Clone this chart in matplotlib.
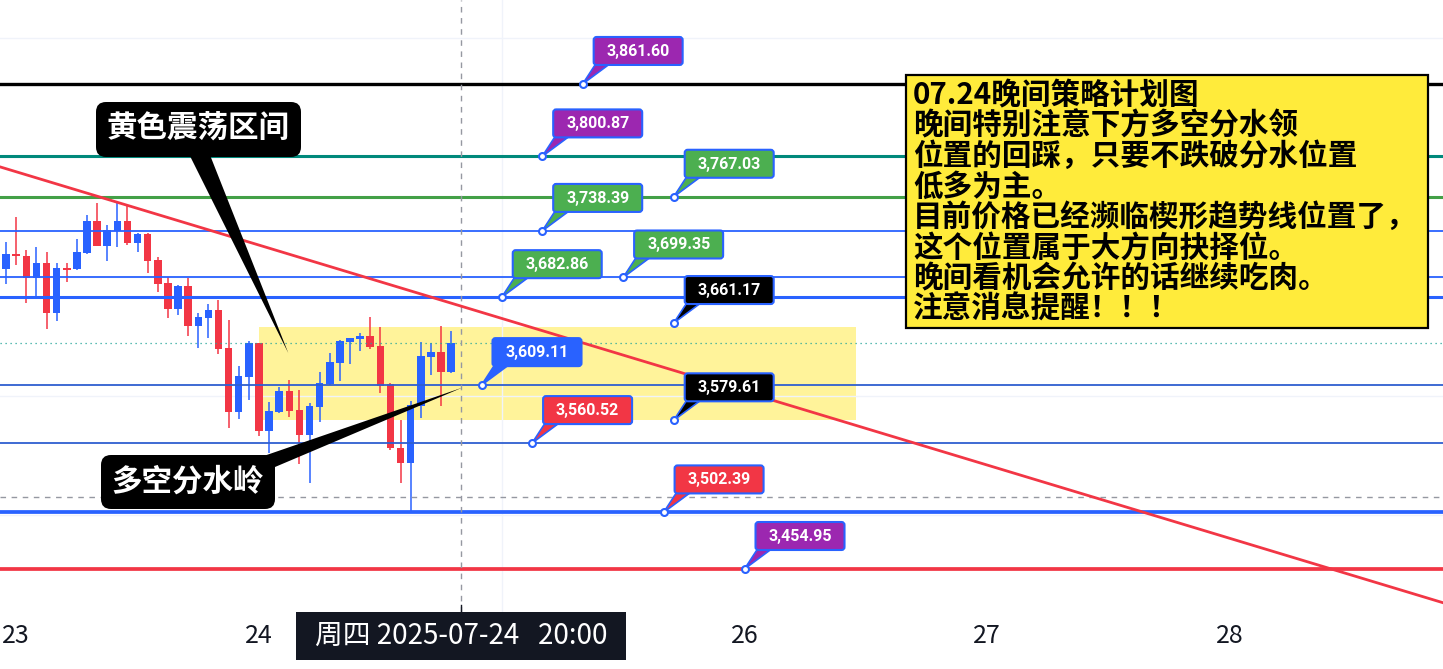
import numpy as np
import pandas as pd
import matplotlib
matplotlib.use("Agg")
import matplotlib.pyplot as plt
from matplotlib.patches import FancyBboxPatch, Rectangle, Polygon

plt.rcParams['font.family'] = ['Noto Sans CJK SC', 'DejaVu Sans']

# ---- data -------------------------------------------------------------
# hourly candles, hours counted from 2025-07-24 00:00
times = pd.date_range('2025-07-22 23:00', periods=45, freq='h')
hours = (times - pd.Timestamp('2025-07-24 00:00')) / pd.Timedelta(hours=1)

opens = [3706.7, 3718.8, 3717.4, 3698.7, 3711.8, 3669.9, 3707.3, 3706.2, 3720.2, 3746.5,
         3726.0, 3738.6, 3746.5, 3728.5, 3735.8, 3714.0, 3694.5, 3673.2, 3692.3, 3658.7,
         3665.7, 3672.1, 3640.3, 3586.8, 3616.2, 3644.2, 3570.9, 3586.8, 3604.2, 3588.3,
         3567.3, 3591.0, 3610.1, 3627.9, 3645.5, 3648.0, 3650.6, 3641.9, 3610.1, 3556.7,
         3544.1, 3591.6, 3633.0, 3636.9, 3620.1]
highs = [3729.1, 3750.3, 3722.4, 3724.7, 3721.0, 3711.8, 3711.8, 3731.4, 3751.8, 3761.6,
         3743.4, 3763.8, 3759.9, 3736.9, 3736.9, 3716.8, 3700.0, 3693.1, 3698.7, 3669.9,
         3677.1, 3680.5, 3663.7, 3625.2, 3646.1, 3644.7, 3595.2, 3607.3, 3613.4, 3605.1,
         3594.4, 3620.4, 3636.3, 3646.9, 3648.6, 3653.1, 3666.0, 3658.1, 3610.5, 3579.9,
         3596.1, 3645.0, 3644.2, 3658.7, 3654.5]
lows = [3693.9, 3709.8, 3677.7, 3683.9, 3655.9, 3663.1, 3695.9, 3706.0, 3719.1, 3725.5,
        3713.5, 3725.2, 3726.4, 3721.0, 3703.4, 3687.5, 3665.2, 3667.9, 3650.6, 3640.5,
        3648.9, 3635.0, 3573.4, 3580.7, 3596.6, 3566.5, 3551.9, 3586.0, 3582.7, 3543.0,
        3527.3, 3578.5, 3609.0, 3612.8, 3626.8, 3638.0, 3639.2, 3602.8, 3555.0, 3526.8,
        3503.0, 3581.3, 3617.6, 3591.6, 3619.6]
closes = [3719.1, 3717.1, 3698.7, 3711.8, 3669.9, 3707.1, 3705.7, 3720.7, 3746.5, 3726.0,
          3739.2, 3746.5, 3728.5, 3735.8, 3713.5, 3693.9, 3673.2, 3692.3, 3658.7, 3666.5,
          3672.1, 3639.7, 3586.8, 3616.8, 3644.7, 3570.9, 3587.4, 3604.2, 3587.7, 3567.3,
          3591.6, 3611.2, 3628.8, 3646.1, 3648.6, 3650.6, 3641.4, 3608.4, 3556.2, 3544.1,
          3592.5, 3633.6, 3636.9, 3620.4, 3644.7]

level_prices = [3861.60, 3800.87, 3767.03, 3738.39, 3699.35, 3682.86, 3609.11, 3560.52, 3502.39, 3454.95]
level_colors = ['#000000', '#00897b', '#43a047', '#2962ff', '#2962ff', '#2962ff', '#2f5fd0', '#2f5fd0', '#2962ff', '#f23645']
level_widths = [2.4, 2.2, 2.2, 1.3, 1.3, 2.2, 1.3, 1.3, 2.7, 2.7]

bubble_prices = [3861.60, 3800.87, 3767.03, 3738.39, 3699.35, 3682.86, 3661.17, 3609.11, 3579.61, 3560.52, 3502.39, 3454.95]
bubble_hours = [32, 28, 41, 28, 36, 24, 41, 22, 41, 27, 40, 48]
bubble_colors = ['#9c27b0', '#9c27b0', '#4caf50', '#4caf50', '#4caf50', '#4caf50', '#000000',
                 '#2962ff', '#000000', '#f23645', '#f23645', '#9c27b0']

zone_hours = (0, 59)
zone_prices = (3579.61, 3658.0)
trend_pts = [(-24, 3788.0), (96, 3480.6)]
last_price = 3644.7
cross_hour, cross_price = 20, 3515.0

day_hours = [-24, 0, 24, 48, 72, 96]
tick_hours = [-24, 0, 48, 72, 96]
tick_labels = ['23', '24', '26', '27', '28']
grid_prices = [3500, 3600, 3700, 3800, 3900]

note_lines = ['07.24晚间策略计划图',
              '晚间特别注意下方多空分水领',
              '位置的回踩，只要不跌破分水位置',
              '低多为主。',
              '目前价格已经濒临楔形趋势线位置了，',
              '这个位置属于大方向抉择位。',
              '晚间看机会允许的话继续吃肉。',
              '注意消息提醒！！！']

# ---- figure -----------------------------------------------------------
W, H = 1443, 669
BLUE, RED = '#2962ff', '#f23645'
fig = plt.figure(figsize=(W / 100, H / 100), dpi=100)
ax = fig.add_axes([0, 57 / H, 1, 612 / H])
ax.set_xlim(-25.6, 117.05)
ax.set_ylim(3418.9, 3932.0)
for s in ax.spines.values():
    s.set_visible(False)

ax.set_yticks(grid_prices)
ax.set_yticklabels([])
ax.tick_params(axis='y', length=0)
ax.set_xticks(day_hours, minor=True)
ax.set_xticks(tick_hours, tick_labels)
ax.tick_params(axis='x', which='both', length=0, pad=8, labelsize=18, labelcolor='#131722')
ax.grid(axis='y', color='#f0f3fa', lw=1)
ax.grid(axis='x', which='minor', color='#f0f3fa', lw=1)

ax.add_patch(Rectangle((zone_hours[0], zone_prices[0]), zone_hours[1] - zone_hours[0],
                       zone_prices[1] - zone_prices[0], fc='#fff39a', ec='none', zorder=1))

# candles
for t, o, h, l, c in zip(hours, opens, highs, lows, closes):
    col = BLUE if c >= o else RED
    ax.vlines(t, l, h, color=col, lw=1.1, zorder=2)
    ax.bar(t, max(abs(c - o), 1.2), bottom=min(o, c), width=0.74, color=col, zorder=2)

for p, col, lw in zip(level_prices, level_colors, level_widths):
    ax.axhline(p, color=col, lw=lw, zorder=3)
ax.axline(trend_pts[0], trend_pts[1], color=RED, lw=2.0, zorder=4)
ax.axhline(last_price, color='#26a69a', lw=0.9, ls=(0, (1, 3)), zorder=3)
ax.axvline(cross_hour, color='#9598a1', lw=1, ls=(0, (4, 4)), zorder=3)
ax.axhline(cross_price, color='#9598a1', lw=1, ls=(0, (4, 4)), zorder=3)

# ---- overlay in pixels (y down) ----------------------------------------
ov = fig.add_axes([0, 0, 1, 1], zorder=5)
ov.set_xlim(0, W)
ov.set_ylim(H, 0)
ov.axis('off')
ov.patch.set_alpha(0)


def to_px(t, p):
    x, y = ax.transData.transform((t, p))
    return x, H - y


# price callouts
for p, t, col in zip(bubble_prices, bubble_hours, bubble_colors):
    x0, y0 = to_px(t, p)
    bx, by = x0 + 11, y0 - 47
    ov.add_patch(Polygon([(x0, y0), (bx + 2, by + 27), (bx + 16, by + 27)],
                         fc=col, ec=BLUE, lw=1.2, zorder=6))
    ov.add_patch(FancyBboxPatch((bx, by), 89, 28, boxstyle='round,pad=0,rounding_size=3',
                                fc=col, ec=BLUE, lw=1.5, zorder=7))
    ov.plot(x0, y0, 'o', ms=5, mfc='white', mec=BLUE, mew=1.5, zorder=8)
    ov.text(bx + 44.5, by + 14.5, f'{p:,.2f}', color='white', fontsize=11.5, weight='bold',
            family=['Roboto', 'DejaVu Sans'], ha='center', va='center', zorder=9)

# black speech callouts
tip1 = to_px(2.9, 3636.0)
ov.add_patch(Polygon([(187, 150), (208, 150), tip1], fc='black', ec='none', zorder=6))
ov.add_patch(FancyBboxPatch((96, 102), 205, 55, boxstyle='round,pad=0,rounding_size=10',
                            fc='black', ec='none', zorder=7))
ov.text(198.5, 129, '黄色震荡区间', color='white', fontsize=22, weight='heavy',
        ha='center', va='center', zorder=9)

tip2 = to_px(20.1, 3607.0)
ov.add_patch(Polygon([(255, 459), (275, 467), tip2], fc='black', ec='none', zorder=6))
ov.add_patch(FancyBboxPatch((101, 455), 174, 54, boxstyle='round,pad=0,rounding_size=10',
                            fc='black', ec='none', zorder=7))
ov.text(188, 482, '多空分水岭', color='white', fontsize=22, weight='heavy',
        ha='center', va='center', zorder=9)

# note box
ov.add_patch(Rectangle((906, 75), 522, 253, fc='#ffeb3b', ec='black', lw=1.6, zorder=7))
for i, line in enumerate(note_lines):
    ov.text(913, 95 + 30.57 * i, line, color='black', fontsize=21.3, weight='heavy',
            ha='left', va='center', zorder=9)

# crosshair date label
cx, _ = to_px(cross_hour, cross_price)
ov.plot([cx, cx], [605, 612], color='#131722', lw=1, zorder=6)
ov.add_patch(Rectangle((cx - 165, 612), 330, 48, fc='#131722', ec='none', zorder=7))
ov.text(cx, 636, '周四 2025-07-24   20:00', color='white', fontsize=20,
        ha='center', va='center', zorder=9)

fig.savefig('out.png', dpi=100)
